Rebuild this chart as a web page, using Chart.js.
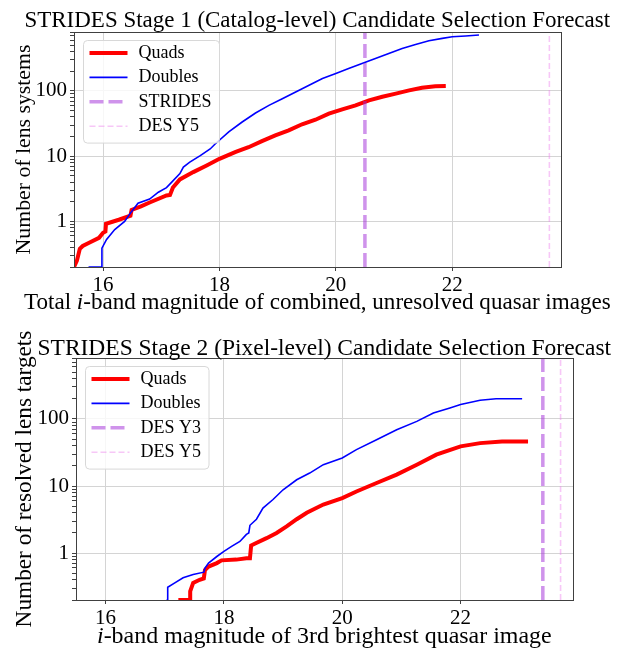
<!DOCTYPE html>
<html lang="en">
<head>
<meta charset="UTF-8">
<title>STRIDES Candidate Selection Forecast</title>
<script src="https://cdn.jsdelivr.net/npm/chart.js"></script>
<style>
  body { margin: 0; background: #fff; }
  canvas { display: block; }
</style>
</head>
<body>
<canvas id="stage1" width="622" height="325"></canvas>
<canvas id="stage2" width="622" height="326"></canvas>
<script>
// Stage 1 (catalog-level): cumulative number of lens systems vs total i-band magnitude
// (repeated magnitudes mark the visible jumps)
const stage1QuadMag = [15.5, 15.55, 15.6, 15.65, 15.76, 15.93, 16.0, 16.04, 16.05, 16.27, 16.47, 16.49, 16.65, 16.8, 17.09, 17.15, 17.2, 17.32, 17.55, 17.78, 18.0, 18.28, 18.5, 18.73, 18.96, 19.19, 19.42, 19.65, 19.88, 20.11, 20.34, 20.57, 20.8, 21.03, 21.26, 21.48, 21.71, 21.89];
const stage1QuadN = [0.2, 0.25, 0.38, 0.42, 0.47, 0.56, 0.67, 0.7, 0.92, 1.06, 1.22, 1.5, 1.7, 1.95, 2.5, 2.55, 3.3, 4.4, 5.7, 7.2, 9.1, 11.6, 13.7, 17, 20.8, 24.8, 30.8, 36.2, 44.8, 52.2, 60, 71.8, 81.3, 91, 102, 112, 118, 119];
const stage1DoubleMag = [15.75, 15.98, 15.98, 16.06, 16.2, 16.37, 16.47, 16.6, 16.8, 16.95, 17.09, 17.18, 17.32, 17.38, 17.49, 17.67, 17.84, 17.93, 18.16, 18.39, 18.62, 18.85, 19.08, 19.31, 19.54, 19.77, 20.0, 20.22, 20.45, 20.68, 20.91, 21.14, 21.37, 21.6, 21.83, 22.0, 22.23, 22.46];
const stage1DoubleN = [0.2, 0.2, 0.39, 0.53, 0.75, 1.0, 1.34, 1.9, 2.2, 2.8, 3.3, 4.0, 5.4, 6.8, 8.1, 10.2, 12.9, 15.5, 23.5, 33.4, 45.9, 60, 76, 96.5, 122, 155, 185, 220, 263, 314, 375, 448, 516, 587, 639, 677, 694, 718];
const stage1CutMag = [20.5, 23.67];
const stage1CutLabels = ['STRIDES', 'DES Y5'];

// Stage 2 (pixel-level): cumulative number of resolved lens targets vs 3rd-image magnitude
const stage2QuadMag = [17.23, 17.43, 17.43, 17.48, 17.59, 17.66, 17.68, 17.74, 17.88, 17.96, 18.21, 18.38, 18.44, 18.46, 18.52, 18.72, 18.89, 19.06, 19.23, 19.4, 19.68, 20.0, 20.24, 20.58, 20.92, 21.26, 21.59, 22.0, 22.33, 22.7, 23.14];
const stage2QuadN = [0.2, 0.2, 0.27, 0.36, 0.4, 0.42, 0.56, 0.63, 0.71, 0.78, 0.8, 0.84, 0.84, 1.3, 1.38, 1.67, 2.0, 2.5, 3.2, 4.0, 5.3, 6.6, 8.3, 11.1, 14.8, 20.8, 29.4, 39, 43.6, 46, 46];
const stage2DoubleMag = [17.03, 17.05, 17.05, 17.17, 17.31, 17.48, 17.66, 17.68, 17.74, 17.88, 18.0, 18.13, 18.27, 18.38, 18.42, 18.44, 18.55, 18.66, 18.83, 19.0, 19.23, 19.45, 19.68, 20.0, 20.24, 20.58, 20.92, 21.26, 21.54, 21.82, 22.0, 22.33, 22.6, 23.04];
const stage2DoubleN = [0.2, 0.2, 0.31, 0.36, 0.43, 0.48, 0.52, 0.6, 0.71, 0.89, 1.06, 1.26, 1.49, 1.9, 2.0, 2.6, 3.2, 4.7, 6.3, 8.8, 12.4, 15.6, 20.8, 26.2, 34.9, 49, 69, 92, 123, 146, 164, 190, 200, 200];
const stage2CutMag = [23.39, 23.69];
const stage2CutLabels = ['DES Y3', 'DES Y5'];

const xTicks = [16, 18, 20, 22];
const yMajorTicks = [1, 10, 100];

const FONT = 'Liberation Serif';
Chart.defaults.font.family = FONT;
Chart.defaults.color = '#000';

const measureCtx = document.createElement('canvas').getContext('2d');

// font size at which `text` spans `width` pixels
function sizeForWidth(text, width, italic) {
  measureCtx.font = (italic ? 'italic ' : '') + '20px "' + FONT + '"';
  return 20 * width / measureCtx.measureText(text).width;
}

function fitText(ctx, parts, cx, y, width) {
  // parts: [text, italic] pairs, scaled so the whole line spans `width`
  const fontFor = (it, s) => (it ? 'italic ' : '') + s + 'px "' + FONT + '"';
  const measure = s => parts.reduce((w, p) => { ctx.font = fontFor(p[1], s); return w + ctx.measureText(p[0]).width; }, 0);
  const size = 20 * width / measure(20);
  let x = cx - width / 2;
  ctx.textAlign = 'left';
  ctx.textBaseline = 'alphabetic';
  parts.forEach(p => {
    ctx.font = fontFor(p[1], size);
    ctx.fillText(p[0], x, y);
    x += ctx.measureText(p[0]).width;
  });
}

const figText = {
  id: 'figText',
  afterDraw(chart, args, opts) {
    const { ctx, chartArea: ca } = chart;
    const cx = (ca.left + ca.right) / 2;
    ctx.save();
    ctx.fillStyle = '#000';
    fitText(ctx, [[opts.title, false]], cx, opts.titleY, opts.titleW);
    fitText(ctx, opts.xlabel, cx, opts.xlabelY, opts.xlabelW);
    ctx.restore();
  }
};

const frame = {
  id: 'frame',
  afterDatasetsDraw(chart) {
    const { ctx, chartArea: ca } = chart;
    ctx.save();
    ctx.strokeStyle = '#404040';
    ctx.lineWidth = 1;
    ctx.strokeRect(Math.round(ca.left) + 0.5, Math.round(ca.top) + 0.5, Math.round(ca.right - ca.left), Math.round(ca.bottom - ca.top));
    ctx.restore();
  }
};

const legendBox = {
  id: 'legendBox',
  afterDraw(chart) {
    const { ctx, chartArea: ca } = chart;
    const sets = chart.data.datasets;
    ctx.save();
    ctx.font = '18px "' + FONT + '"';
    const textW = Math.max(...sets.map(d => ctx.measureText(d.label).width));
    const left = ca.left + 9.5, top = ca.top + 8.5, rowH = 24.4;
    const w = 55 + textW + 8, h = rowH * sets.length + 5;
    ctx.beginPath();
    ctx.roundRect(left, top, w, h, 4);
    ctx.fillStyle = 'rgba(255,255,255,0.8)';
    ctx.fill();
    ctx.strokeStyle = '#d8d8d8';
    ctx.lineWidth = 1;
    ctx.stroke();
    sets.forEach((d, i) => {
      const y = top + 12.5 + i * rowH;
      ctx.beginPath();
      ctx.setLineDash(d.borderDash || []);
      ctx.strokeStyle = d.borderColor;
      ctx.lineWidth = d.borderWidth;
      ctx.moveTo(left + 6, y);
      ctx.lineTo(left + 44, y);
      ctx.stroke();
      ctx.setLineDash([]);
      ctx.fillStyle = '#000';
      ctx.textBaseline = 'middle';
      ctx.fillText(d.label, left + 55, y);
    });
    ctx.restore();
  }
};

function xy(xs, ys) {
  return xs.map((x, i) => ({ x: x, y: ys[i] }));
}

function makeChart(id, cfg) {
  const yTickValues = [];
  [0.1, 1, 10, 100].forEach(d => {
    for (let k = 1; k <= 9; k++) {
      const v = k * d;
      if (v >= cfg.yMin && v <= cfg.yMax) yTickValues.push(v);
    }
  });

  const datasets = [
    { label: 'Quads', data: xy(cfg.quadMag, cfg.quadN), borderColor: '#ff0000', borderWidth: 4, order: 4 },
    { label: 'Doubles', data: xy(cfg.doubleMag, cfg.doubleN), borderColor: '#0000ff', borderWidth: 1.6, order: 3 },
    { label: cfg.cutLabels[0], data: [{ x: cfg.cutMag[0], y: cfg.yMin }, { x: cfg.cutMag[0], y: cfg.yMax }],
      borderColor: 'rgba(160,40,215,0.5)', borderWidth: 3.5, borderDash: [14, 5], order: 2 },
    { label: cfg.cutLabels[1], data: [{ x: cfg.cutMag[1], y: cfg.yMin }, { x: cfg.cutMag[1], y: cfg.yMax }],
      borderColor: 'rgba(238,130,238,0.45)', borderWidth: 1.6, borderDash: [6, 3], order: 1 }
  ];
  datasets.forEach(d => {
    d.pointRadius = 0;
    d.fill = false;
    d.tension = 0;
  });

  return new Chart(document.getElementById(id), {
    type: 'line',
    data: { datasets: datasets },
    options: {
      responsive: false,
      animation: false,
      devicePixelRatio: 1,
      layout: { padding: { top: cfg.padTop, right: cfg.padRight, left: 0, bottom: 0 } },
      plugins: {
        legend: { display: false },
        title: { display: false },
        tooltip: { enabled: false },
        figText: { title: cfg.title, titleY: cfg.titleY, titleW: cfg.titleW,
                   xlabel: cfg.xlabel, xlabelY: cfg.xlabelY, xlabelW: cfg.xlabelW }
      },
      scales: {
        x: {
          type: 'linear',
          min: cfg.xMin,
          max: cfg.xMax,
          afterBuildTicks: s => { s.ticks = xTicks.map(v => ({ value: v })); },
          afterFit: s => { s.height = cfg.xAxisHeight; },
          ticks: { autoSkip: false, maxRotation: 0, padding: 2, font: { size: 21 }, color: '#000' },
          grid: { color: '#d4d4d4', lineWidth: 1, tickColor: '#404040', tickLength: 4 },
          border: { display: false }
        },
        y: {
          type: 'logarithmic',
          min: cfg.yMin,
          max: cfg.yMax,
          afterBuildTicks: s => { s.ticks = yTickValues.map(v => ({ value: v })); },
          afterFit: s => { s.width = cfg.yAxisWidth; },
          ticks: {
            autoSkip: false,
            padding: 3,
            font: { size: 21 },
            color: '#000',
            callback: v => yMajorTicks.includes(v) ? String(v) : ''
          },
          grid: {
            color: c => (c.tick && yMajorTicks.includes(c.tick.value)) ? '#d4d4d4' : 'rgba(0,0,0,0)',
            lineWidth: 1,
            tickColor: '#404040',
            tickLength: 4
          },
          border: { display: false },
          title: {
            display: true,
            text: cfg.ylabel,
            font: { size: sizeForWidth(cfg.ylabel, cfg.ylabelW), lineHeight: 1.2 },
            color: '#000',
            padding: { top: 11, bottom: 0 }
          }
        }
      }
    },
    plugins: [frame, figText, legendBox]
  });
}

makeChart('stage1', {
  quadMag: stage1QuadMag, quadN: stage1QuadN,
  doubleMag: stage1DoubleMag, doubleN: stage1DoubleN,
  cutMag: stage1CutMag, cutLabels: stage1CutLabels,
  xMin: 15.5, xMax: 23.87, yMin: 0.2, yMax: 800,
  padTop: 32, padRight: 61, yAxisWidth: 74, xAxisHeight: 58,
  title: 'STRIDES Stage 1 (Catalog-level) Candidate Selection Forecast', titleY: 26.5, titleW: 586,
  xlabel: [['Total ', false], ['i', true], ['-band magnitude of combined, unresolved quasar images', false]],
  xlabelY: 308.5, xlabelW: 587,
  ylabel: 'Number of lens systems', ylabelW: 210
});

makeChart('stage2', {
  quadMag: stage2QuadMag, quadN: stage2QuadN,
  doubleMag: stage2DoubleMag, doubleN: stage2DoubleN,
  cutMag: stage2CutMag, cutLabels: stage2CutLabels,
  xMin: 15.5, xMax: 23.9, yMin: 0.2, yMax: 810,
  padTop: 33, padRight: 49, yAxisWidth: 76, xAxisHeight: 51,
  title: 'STRIDES Stage 2 (Pixel-level) Candidate Selection Forecast', titleY: 29.5, titleW: 574,
  xlabel: [['i', true], ['-band magnitude of 3rd brightest quasar image', false]],
  xlabelY: 318, xlabelW: 455,
  ylabel: 'Number of resolved lens targets', ylabelW: 297
});
</script>
</body>
</html>
